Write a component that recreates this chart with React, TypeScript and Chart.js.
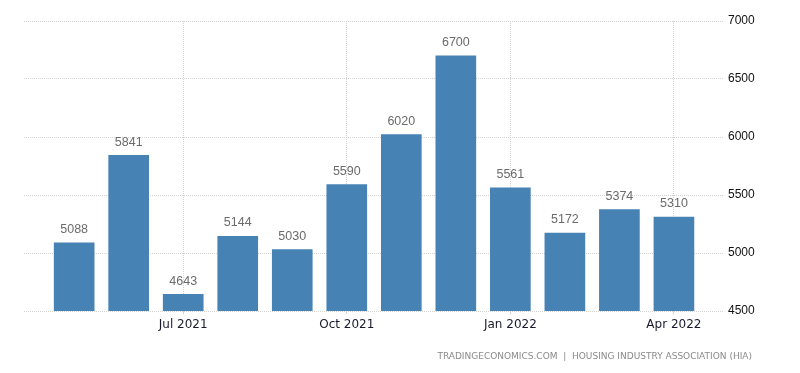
import React, { useEffect, useRef } from "react";
import { Chart, registerables } from "chart.js";

Chart.register(...registerables);

const categories = ["May 2021", "Jun 2021", "Jul 2021", "Aug 2021", "Sep 2021", "Oct 2021", "Nov 2021", "Dec 2021", "Jan 2022", "Feb 2022", "Mar 2022", "Apr 2022"];
const values = [5088, 5841, 4643, 5144, 5030, 5590, 6020, 6700, 5561, 5172, 5374, 5310];
const xTickLabels = ["Jul 2021", "Oct 2021", "Jan 2022", "Apr 2022"];
const yTicks = [4500, 5000, 5500, 6000, 6500, 7000];
const footer = "TRADINGECONOMICS.COM  |  HOUSING INDUSTRY ASSOCIATION (HIA)";

const labelPlugin = {
  id: "valueLabels",
  afterDatasetsDraw(chart: any) {
    const ctx = chart.ctx;
    const meta = chart.getDatasetMeta(0);
    ctx.save();
    ctx.font = "12.5px 'Liberation Sans', Arial, sans-serif";
    ctx.fillStyle = "#6b6b6b";
    ctx.textAlign = "center";
    ctx.textBaseline = "bottom";
    meta.data.forEach((el: any, i: number) => {
      ctx.fillText(String(values[i]), el.x, el.y - 7);
    });
    ctx.restore();
  },
  afterDraw(chart: any) {
    const ctx = chart.ctx;
    ctx.save();
    ctx.font = "9px 'DejaVu Sans', sans-serif";
    (ctx as any).letterSpacing = "0px";
    ctx.fillStyle = "#8a8a8a";
    ctx.textAlign = "right";
    ctx.textBaseline = "middle";
    ctx.fillText(footer, 752, 357);
    ctx.restore();
  },
};

export default function App() {
  const ref = useRef<HTMLCanvasElement | null>(null);
  useEffect(() => {
    if (!ref.current) return;
    const chart = new Chart(ref.current, {
      type: "bar",
      data: {
        datasets: [
          {
            label: "Housing",
            data: values.map((v, i) => ({ x: i, y: v })),
            backgroundColor: "#4682b4",
            barThickness: 40,
          },
        ],
      },
      plugins: [labelPlugin],
      options: {
        animation: false,
        responsive: false,
        maintainAspectRatio: false,
        layout: { padding: { left: 24, top: 21, right: 0, bottom: 0 } },
        plugins: { legend: { display: false }, tooltip: { enabled: false } },
        scales: {
          x: {
            type: "linear",
            offset: false,
            bounds: "data",
            min: -0.92,
            max: 11.9,
            afterBuildTicks: (scale: any) => {
              scale.ticks = xTickLabels.map((l) => ({ value: categories.indexOf(l) }));
            },
            afterFit: (scale: any) => {
              scale.height = 62;
            },
            ticks: {
              autoSkip: false,
              maxRotation: 0,
              padding: 4,
              color: "#1a1a2e",
              font: { family: "'DejaVu Sans', sans-serif", size: 12 },
              callback: (v: any) => categories[Math.round(Number(v))] ?? "",
            },
            grid: { offset: false, color: "#d4d4d4", drawTicks: true, tickLength: 3 },
            border: { display: false, dash: [1, 1] },
          },
          y: {
            position: "right",
            min: 4500,
            max: 7000,
            afterBuildTicks: (scale: any) => {
              scale.ticks = yTicks.map((v) => ({ value: v }));
            },
            afterFit: (scale: any) => {
              scale.width = 77;
            },
            ticks: {
              padding: 5,
              color: "#111",
              font: { family: "'Liberation Sans', Arial, sans-serif", size: 12 },
              callback: (v: any) => String(v),
            },
            grid: { color: "#d4d4d4", drawTicks: false },
            border: { display: false, dash: [1, 1] },
          },
        },
      },
    });
    return () => chart.destroy();
  }, []);
  return (
    <div style={{ position: "absolute", left: 0, top: 0, width: 800, height: 373, background: "#fff" }}>
      <canvas ref={ref} width={800} height={373} />
    </div>
  );
}
